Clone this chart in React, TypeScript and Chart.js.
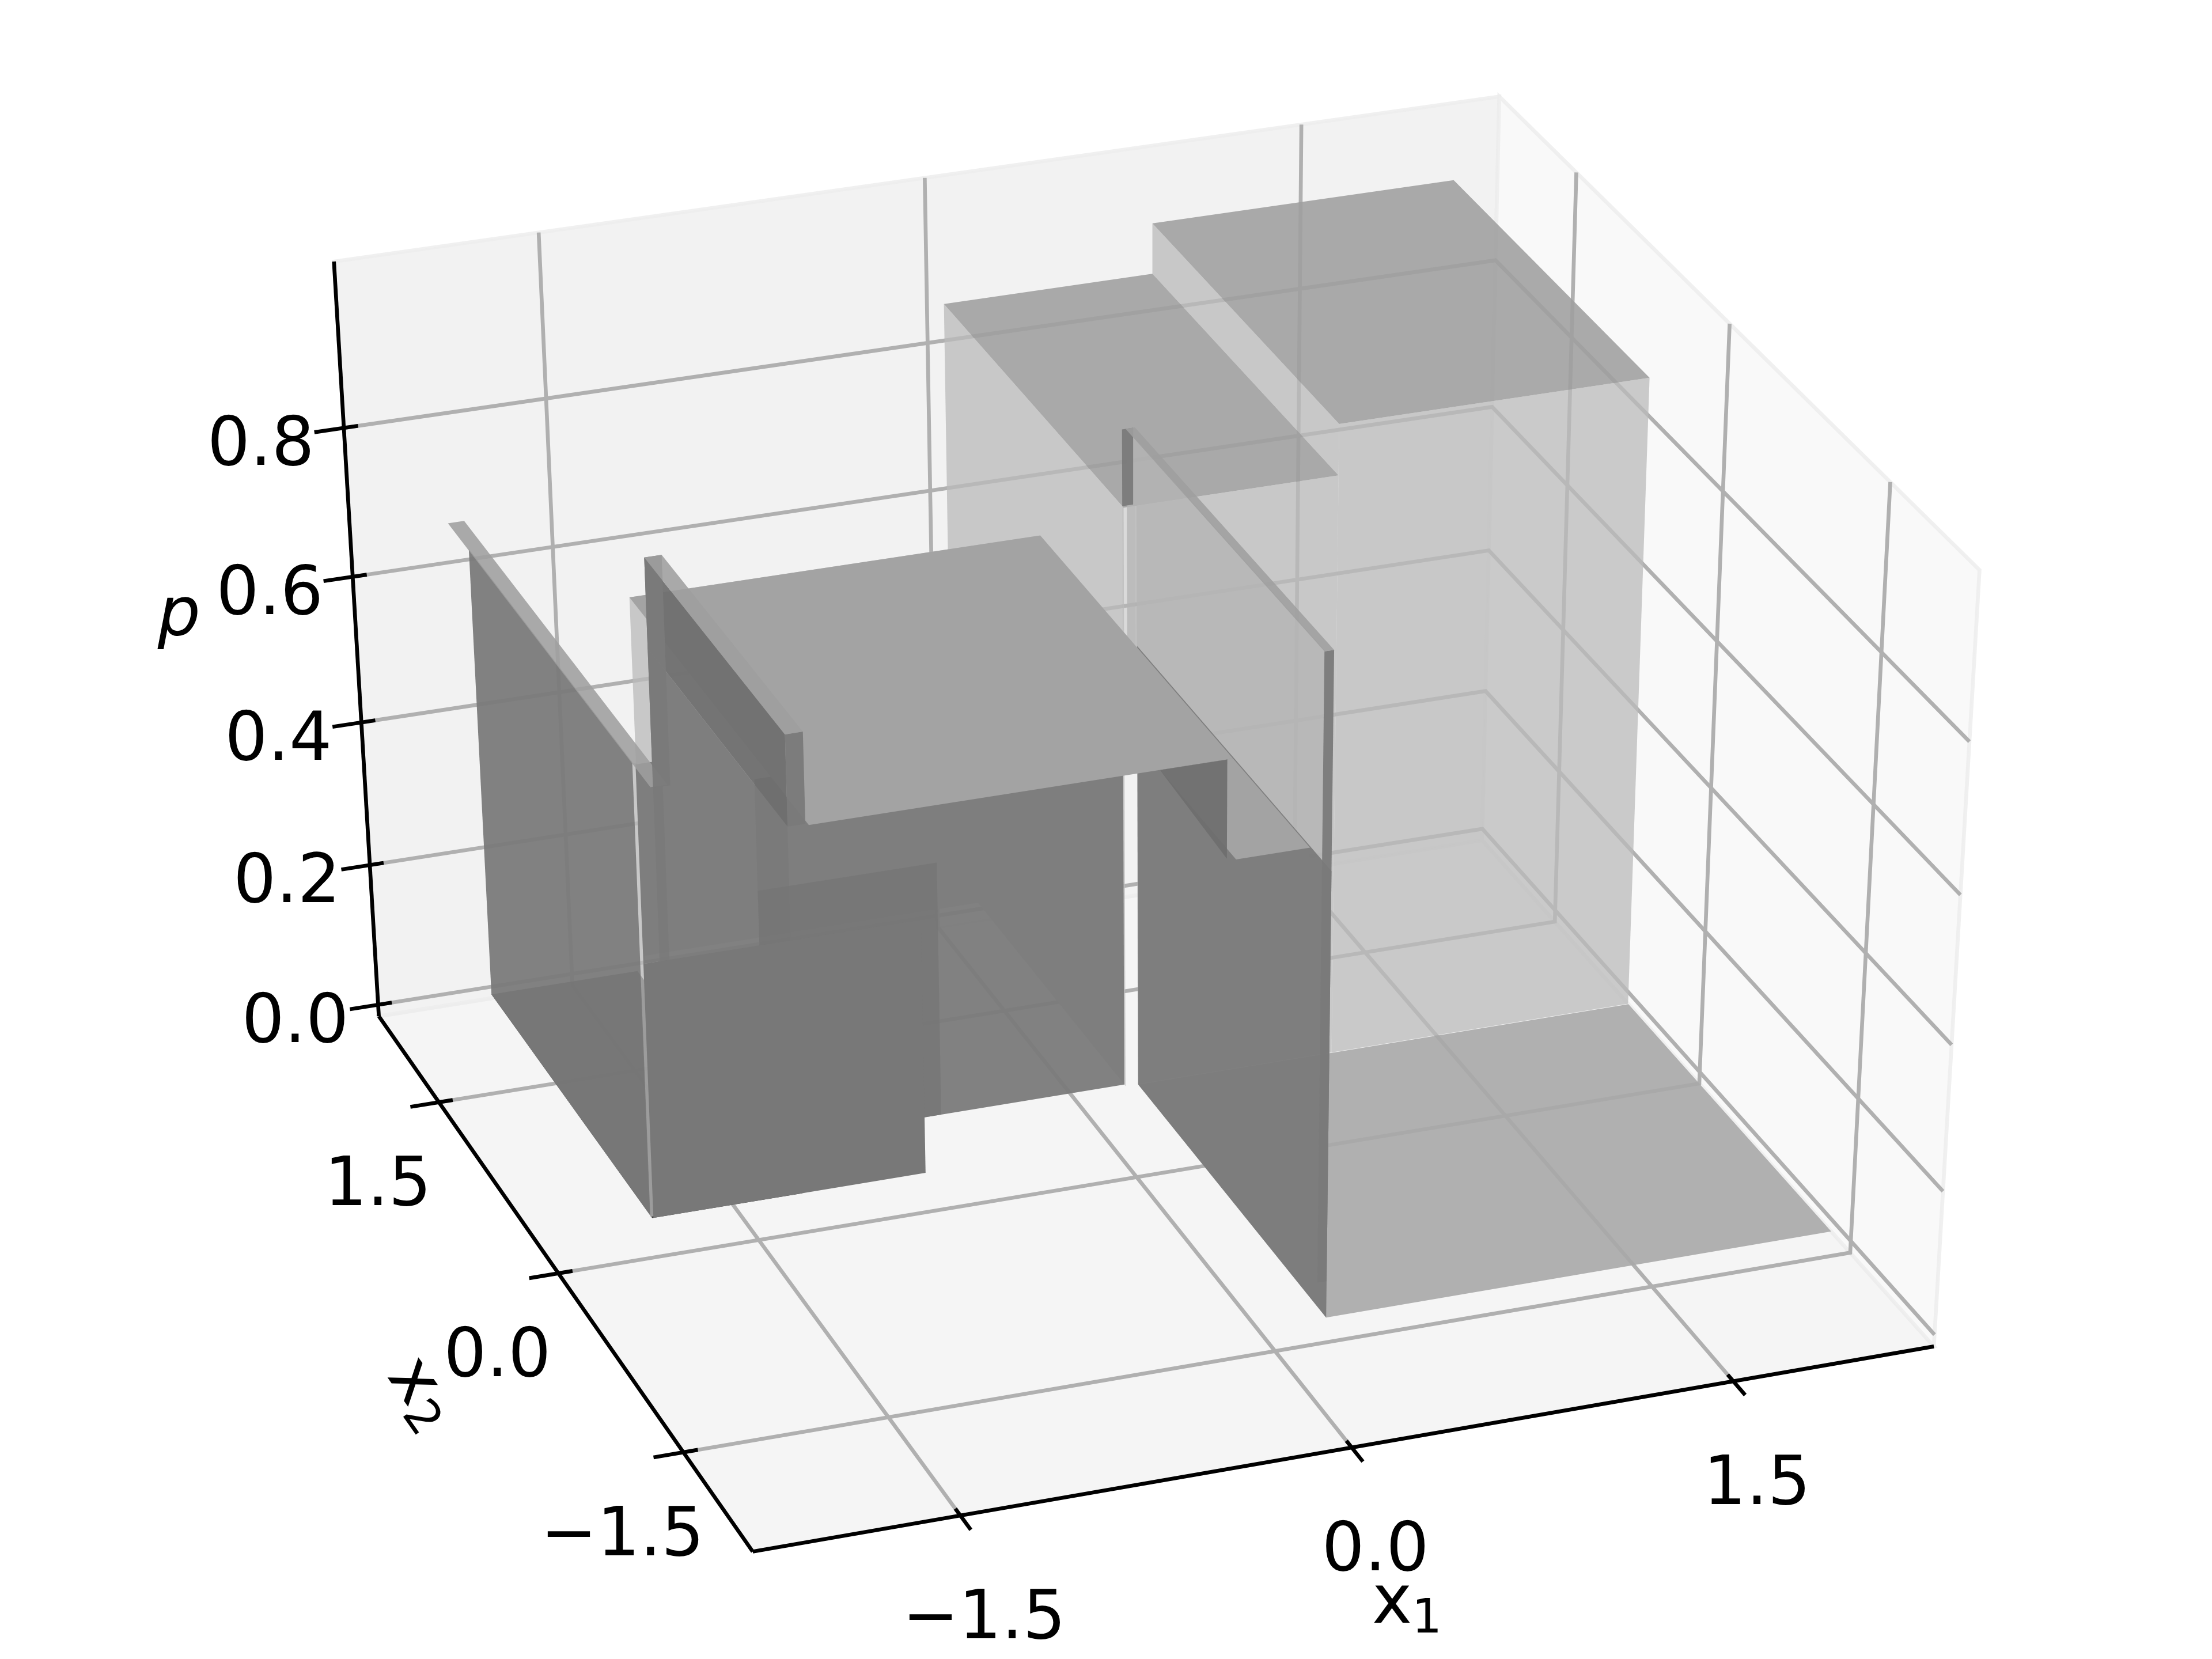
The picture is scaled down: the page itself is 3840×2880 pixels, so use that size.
import React, { useEffect, useRef } from "react";
import { Chart, registerables } from "chart.js";
Chart.register(...registerables);

// axis limits and ticks
const x1Lim = [-2.33, 2.33];
const x2Lim = [-2.33, 2.33];
const pLim = [-0.0166, 1.0186];
const x1Ticks = [-1.53, 0, 1.52];
const x2Ticks = [-1.52, 0, 1.53];
const pTicks = [0, 0.2, 0.4, 0.6, 0.8];
const x1Labels = ["\u22121.5", "0.0", "1.5"];
const x2Labels = ["\u22121.5", "0.0", "1.5"];
const pLabels = ["0.0", "0.2", "0.4", "0.6", "0.8"];

// camera: projective matrix of the unit box, read from the box corners
const view = [2147.467, -594.9993, -118.0245, 1306.811, -288.5745, -784.1858, -1444.321, 2693.516, 0.02893783, 0.08235968, -0.05809451];

const PALE = "rgba(187,187,187,0.76)";
const RIDGE = "rgba(180,180,180,0.8)";
const GAP = "rgba(187,187,187,0.42)";
const DARK = "rgba(122,122,122,0.95)";
const DARKER = "rgba(110,110,110,0.93)";
const OVERLAY = "rgba(118,118,118,0.75)";
const FRONT = "rgb(120,120,120)";
const SHADOW = "rgba(40,40,40,0.9)";
const TOP = "rgba(158,158,158,0.88)";
const SOLID = "rgb(163,163,163)";
const FLOOR = "rgba(168,168,168,0.9)";
const BASE = -0.0166;

type Face = (string | number)[];
// T: level top [x1a,x1b,x2a,x2b,p]   X: wall at x1 [x1,x2a,x2b,p0,p1]   Y: wall at x2 [x2,x1a,x1b,p0,p1]
const floorFaces: Face[] = [["T", 0.275, 2.33, -1.333, 0.741, BASE, FLOOR]];
const backWalls: Face[] = [
  ["Y", 0.745, 0.275, 1.081, BASE, 0.782, PALE],
  ["Y", 0.745, 1.081, 2.33, BASE, 0.85, PALE],
  ["X", 0.224, 0.745, 2.787, BASE, 0.782, PALE],
  ["Y", 2.484, -1.184, 0.48, BASE, 0.492, PALE],
  ["X", 1.081, 0.745, 2.787, 0.782, 0.85, PALE],
  ["Y", 0.76, 0.224, 0.275, 0.492, 0.782, GAP],
];
const backTops: Face[] = [
  ["T", 1.081, 2.33, 0.745, 2.787, 0.85, TOP],
  ["T", 0.224, 1.081, 0.745, 2.787, 0.782, TOP],
];
const ridgeBack: Face[] = [
  ["X", 0.242, -1.333, 0.76, 0.595, 0.883, RIDGE],
  ["Y", 0.76, 0.224, 0.268, 0.782, 0.883, DARK],
];
const darkWalls: Face[] = [
  ["X", 0.275, -1.333, 0.741, BASE, 0.595, DARK],
  ["T", -1.855, -1.249, 0.312, 2.363, BASE, SHADOW],
  ["X", -1.263, 0.326, 2.013, BASE, 0.492, DARK],
  ["Y", 0.76, -1.249, 0.224, BASE, 0.492, DARK],
  ["Y", 0.76, -1.249, -0.531, BASE, 0.339, OVERLAY],
];
const plateau: Face[] = [
  ["T", -1.184, 0.503, 0.312, 2.484, 0.492, SOLID],
  ["T", 0.21, 0.503, -0.513, 0.312, 0.492, SOLID],
];
const frontWalls: Face[] = [
  ["Y", 0.325, -1.86, -1.84, BASE, 0.609, PALE],
  ["Y", 0.312, -1.85, -0.75, BASE, 0.339, FRONT],
  ["Y", 0.312, -1.85, -1.748, 0.339, 0.609, DARK],
  ["X", -1.855, 0.336, 2.363, BASE, 0.609, DARK],
  ["T", -1.859, -1.794, 0.107, 2.619, 0.609, TOP],
  ["X", -1.263, 0.326, 2.013, 0.492, 0.616, DARKER],
  ["Y", 2.013, -1.263, -1.193, 0.298, 0.616, DARK],
  ["Y", 0.326, -1.263, -1.193, 0.492, 0.616, DARK],
  ["T", -1.263, -1.193, 0.326, 2.013, 0.616, TOP],
  ["Y", -1.333, 0.238, 0.275, 0.035, 0.883, DARK],
  ["T", 0.238, 0.275, -1.333, 0.76, 0.883, TOP],
];
// wall piece over the plateau's front part: [x1,x2,p] corners
const frontWedge = [[0.21, 0.312, 0.492], [0.48, 0.312, 0.492], [0.48, 0.312, 0.356]];

const u = (x: number) => (x - x1Lim[0]) / (x1Lim[1] - x1Lim[0]);
const v = (x: number) => (x - x2Lim[0]) / (x2Lim[1] - x2Lim[0]);
const w = (p: number) => 0.016 + 0.966 * p;
function project(x1: number, x2: number, p: number) {
  const U = u(x1), V = v(x2), W = w(p), m = view;
  const d = m[8] * U + m[9] * V + m[10] * W + 1;
  return { x: (m[0] * U + m[1] * V + m[2] * W + m[3]) / d, y: (m[4] * U + m[5] * V + m[6] * W + m[7]) / d };
}
function corners(f: Face): number[][] {
  const [k, a, b, c, d, e] = f as [string, number, number, number, number, number];
  if (k === "T") return [[a, c, e], [b, c, e], [b, d, e], [a, d, e]];
  if (k === "X") return [[a, b, d], [a, c, d], [a, c, e], [a, b, e]];
  return [[b, a, d], [c, a, d], [c, a, e], [b, a, e]];
}
const closed = (pts: number[][]) => [...pts, pts[0]].map((q) => project(q[0], q[1], q[2]));
const LW = 6.67;
const poly = (pts: number[][], color: string, edge = "rgba(0,0,0,0)", bw = 0) => ({
  data: closed(pts), showLine: true, fill: "shape", backgroundColor: color, borderColor: edge, borderWidth: bw,
  pointRadius: 0, tension: 0, clip: false,
});
const line = (pts: number[][], color: string) => ({
  data: pts.map((q) => project(q[0], q[1], q[2])), showLine: true, fill: false, borderColor: color, borderWidth: LW,
  pointRadius: 0, tension: 0, clip: false, borderCapStyle: "butt",
});

function buildDatasets() {
  const [a0, a1] = x1Lim, [b0, b1] = x2Lim, [c0, c1] = pLim;
  const out: any[] = [];
  const paneEdge = "rgba(236,236,236,0.8)";
  out.push(poly([[a0, b0, c0], [a1, b0, c0], [a1, b1, c0], [a0, b1, c0]], "#f5f5f5", paneEdge, LW));
  out.push(poly([[a0, b1, c0], [a1, b1, c0], [a1, b1, c1], [a0, b1, c1]], "#f2f2f2", paneEdge, LW));
  out.push(poly([[a1, b0, c0], [a1, b1, c0], [a1, b1, c1], [a1, b0, c1]], "#f9f9f9", paneEdge, LW));
  for (const t of x1Ticks) out.push(line([[t, b0, c0], [t, b1, c0], [t, b1, c1]], "#b0b0b0"));
  for (const t of x2Ticks) out.push(line([[a0, t, c0], [a1, t, c0], [a1, t, c1]], "#b0b0b0"));
  for (const t of pTicks) out.push(line([[a0, b1, t], [a1, b1, t], [a1, b0, t]], "#b0b0b0"));
  out.push(line([[a0, b0, c0], [a1, b0, c0]], "#000"));
  out.push(line([[a0, b0, c0], [a0, b1, c0]], "#000"));
  out.push(line([[a0, b1, c0], [a0, b1, c1]], "#000"));
  for (const t of x1Ticks) out.push(line([[t, b0 + 0.056, c0], [t, b0 - 0.116, c0]], "#000"));
  for (const t of x2Ticks) out.push(line([[a0 + 0.056, t, c0], [a0 - 0.116, t, c0]], "#000"));
  for (const t of pTicks) out.push(line([[a0 + 0.056, b1, t], [a0 - 0.116, b1, t]], "#000"));
  const tone = (f: Face) => String(f[f.length - 1]);
  for (const f of [...floorFaces, ...backWalls, ...backTops, ...ridgeBack, ...darkWalls, ...plateau]) out.push(poly(corners(f), tone(f)));
  out.push(poly(frontWedge, DARKER));
  for (const f of frontWalls) out.push(poly(corners(f), tone(f)));
  const n = out.length;
  out.forEach((d, i) => (d.order = n - i));
  return out;
}

const FONT = '"DejaVu Sans"';
const labelsPlugin = {
  id: "labels3d",
  afterDatasetsDraw(chart: any) {
    const ctx = chart.ctx;
    ctx.save();
    ctx.fillStyle = "#000";
    ctx.textAlign = "center";
    ctx.textBaseline = "middle";
    ctx.font = `117px ${FONT}`;
    const put = (s: string, q: { x: number; y: number }, dx: number, dy: number) => ctx.fillText(s, q.x + dx, q.y + dy);
    x1Ticks.forEach((t, i) => put(x1Labels[i], project(t, x2Lim[0], pLim[0]), 41, 183));
    x2Ticks.forEach((t, i) => put(x2Labels[i], project(x1Lim[0], t, pLim[0]), -106, 148));
    pTicks.forEach((t, i) => put(pLabels[i], project(x1Lim[0], x2Lim[1], t), -144, 34));
    ctx.font = `italic 117px ${FONT}`;
    ctx.fillText("p", 311, 1073);
    const sub = (s: string, cx: number, cy: number, deg: number) => {
      ctx.save();
      ctx.translate(cx, cy);
      ctx.rotate((deg * Math.PI) / 180);
      ctx.textAlign = "left";
      ctx.font = `117px ${FONT}`;
      ctx.fillText("x", -60, 0);
      ctx.font = `82px ${FONT}`;
      ctx.fillText(s, 9, 26);
      ctx.restore();
    };
    sub("1", 2442, 2787, 0);
    sub("2", 730, 2420, 54.9);
    ctx.restore();
  },
};

export default function App() {
  const ref = useRef<HTMLCanvasElement>(null);
  useEffect(() => {
    const chart = new Chart(ref.current as HTMLCanvasElement, {
      type: "scatter",
      data: { datasets: buildDatasets() },
      options: {
        animation: false, responsive: false, devicePixelRatio: 1,
        layout: { padding: 0 },
        scales: {
          x: { type: "linear", display: false, min: 0, max: 3840 },
          y: { type: "linear", display: false, min: 0, max: 2880, reverse: true },
        },
        plugins: { legend: { display: false }, tooltip: { enabled: false }, title: { display: false } },
      },
      plugins: [labelsPlugin],
    } as any);
    return () => chart.destroy();
  }, []);
  return <canvas ref={ref} width={3840} height={2880} style={{ position: "absolute", left: 0, top: 0, width: 3840, height: 2880, display: "block" }} />;
}
